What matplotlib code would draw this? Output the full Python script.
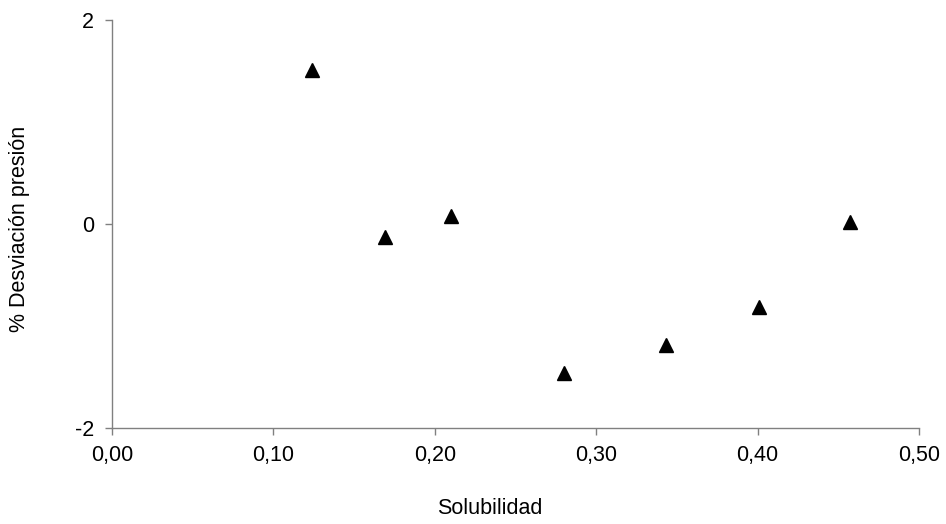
import matplotlib
matplotlib.use("Agg")
import matplotlib.pyplot as plt

plt.rcParams['font.family'] = ['Liberation Sans', 'DejaVu Sans']

solubilidad = [0.124, 0.169, 0.210, 0.280, 0.343, 0.401, 0.457]
desviacion = [1.51, -0.13, 0.08, -1.46, -1.19, -0.81, 0.02]

x_ticks = [0.0, 0.1, 0.2, 0.3, 0.4, 0.5]
x_labels = ["0,00", "0,10", "0,20", "0,30", "0,40", "0,50"]
y_ticks = [-2, 0, 2]
y_labels = ["-2", "0", "2"]

W, H = 946, 524
fig = plt.figure(figsize=(W/100, H/100), dpi=100)
ax = fig.add_axes([112/W, 1 - 428/H, (919-112)/W, (428-20)/H])

ax.plot(solubilidad, desviacion, linestyle='none', marker='^', markersize=10.5,
        color='black', markeredgecolor='black')

ax.set_xlim(0, 0.5)
ax.set_ylim(-2, 2)
ax.set_xticks(x_ticks)
ax.set_xticklabels(x_labels)
ax.set_yticks(y_ticks)
ax.set_yticklabels(y_labels)

for s in ['top', 'right']:
    ax.spines[s].set_visible(False)
for s in ['left', 'bottom']:
    ax.spines[s].set_color('#808080')
    ax.spines[s].set_linewidth(1.0)
ax.tick_params(axis='both', colors='#808080', labelcolor='black', labelsize=15.5,
               length=5, width=1.0, direction='out')
ax.tick_params(axis='x', pad=7)
ax.tick_params(axis='y', pad=8)

fig.text(490/W, 1 - 509/H, "Solubilidad", fontsize=15.5, ha='center', va='center')
fig.text(20/W, 1 - 229/H, "% Desviación presión", fontsize=15.5, ha='center',
         va='center', rotation=90)

fig.savefig("out.png", dpi=100)
